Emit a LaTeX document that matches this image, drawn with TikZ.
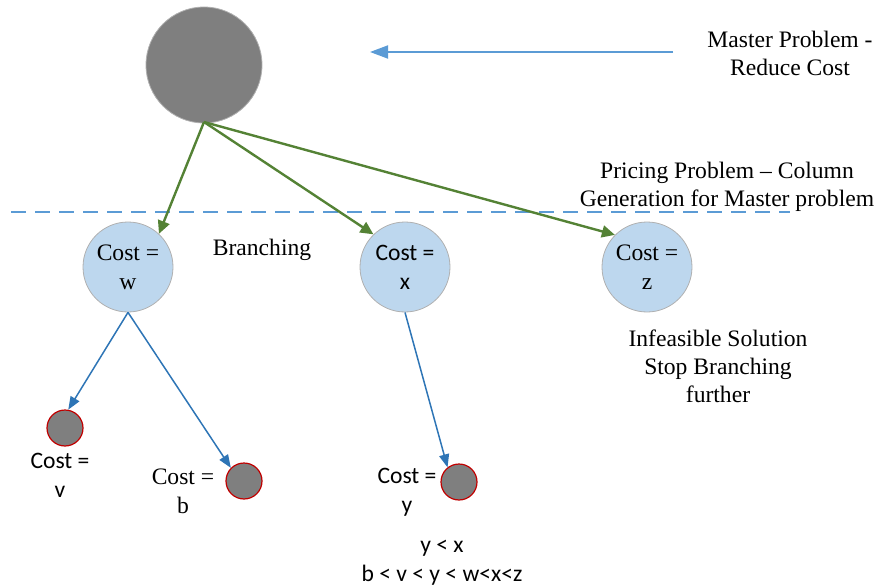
\documentclass[tikz,border=0pt]{standalone}
\usepackage{fontspec}
\setmainfont{Liberation Serif}
\newfontfamily\calibri{Carlito}
\usetikzlibrary{arrows.meta}
\definecolor{darkgrey}{HTML}{7F7F7F}
\definecolor{rimgrey}{HTML}{B0B0B0}
\definecolor{paleblue}{HTML}{BDD7EE}
\definecolor{linkblue}{HTML}{2E75B6}
\definecolor{lightblue}{HTML}{5B9BD5}
\definecolor{branchgreen}{HTML}{548235}
\definecolor{rimred}{HTML}{C00000}
\tikzset{
  txt/.style={font=\fontsize{23.6}{28}\selectfont, align=center, inner sep=0pt},
  ctxt/.style={font=\calibri\fontsize{23.6}{29}\selectfont, align=center, inner sep=0pt},
  rootnode/.style={circle, fill=darkgrey, draw=rimgrey, line width=0.8pt, minimum size=116pt, inner sep=0pt},
  costnode/.style={circle, fill=paleblue, draw=rimgrey, line width=0.8pt, minimum size=90pt, inner sep=0pt,
    font=\fontsize{23.6}{29}\selectfont, align=center},
  leafnode/.style={circle, fill=darkgrey, draw=rimred, line width=1.2pt, minimum size=36pt, inner sep=0pt},
  greenarrow/.style={draw=branchgreen, line width=2.4pt, -{Triangle[length=13pt,width=12pt]}},
  bluearrow/.style={draw=linkblue, line width=1.5pt, -{Triangle[length=13pt,width=10pt]}},
}
\begin{document}
\begin{tikzpicture}[x=1pt, y=-1pt]
\useasboundingbox (0,0) rectangle (879,586);

% pricing boundary
\draw[lightblue, line width=1.6pt, dash pattern=on 15pt off 9pt] (11,212) -- (790,212);

% master problem and the reduced-cost pointer
\node[rootnode] (root) at (204,65) {};
\node[txt] (master) at (790,53) {Master Problem -\\Reduce Cost};
\coordinate (ptrstart) at (673,52);
\coordinate (ptrend) at (370,52);
\draw[lightblue, line width=1.8pt, -{Triangle[length=18pt,width=13pt]}] (ptrstart) -- (ptrend);

\node[txt] (pricing) at (727,187) {Pricing Problem -- Column\\Generation for Master problem};

% first-level columns
\node[costnode] (w) at (128,267) {Cost =\\w};
\node[costnode, font=\calibri\fontsize{23.6}{29}\selectfont] (x) at (405,267) {Cost =\\x};
\node[costnode] (z) at (647,267) {Cost =\\z};

\node[txt] (branching) at (262,250) {Branching};
\node[txt] (infeasible) at (718,366) {Infeasible Solution\\Stop Branching\\further};

\coordinate (fork) at (204,122);
\draw[greenarrow] (fork) -- (w.47);
\draw[greenarrow] (fork) -- (x.134);
\draw[greenarrow] (fork) -- (z.135);

% second-level columns
\node[leafnode] (v) at (65,428) {};
\node[leafnode] (b) at (244,481) {};
\node[leafnode] (y) at (459,482) {};

\node[ctxt] (vlabel) at (60,475) {Cost =\\v};
\node[txt, font=\fontsize{23.6}{29}\selectfont] (blabel) at (183,491) {Cost =\\b};
\node[ctxt] (ylabel) at (407,492) {Cost =\\y};

\draw[bluearrow] (w.south) -- (v.80);
\draw[bluearrow] (w.south) -- (b.135);
\draw[bluearrow] (x.south) -- (y.128);

\node[ctxt] (order) at (442,563) {y < x\\b < v < y < w<x<z};
\end{tikzpicture}
\end{document}
